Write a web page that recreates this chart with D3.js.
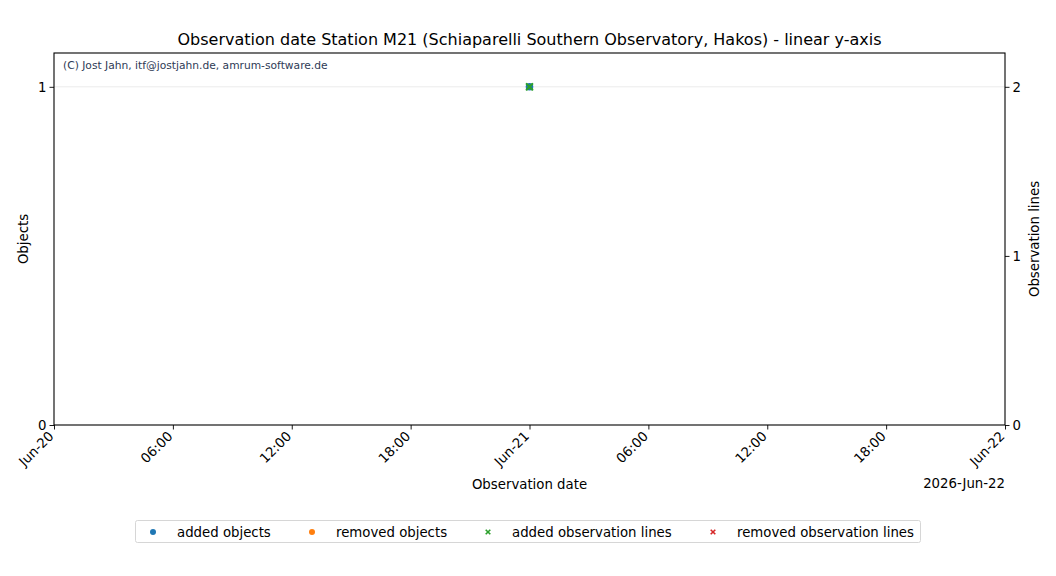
<!DOCTYPE html>
<html>
<head>
<meta charset="utf-8">
<script src="https://cdn.jsdelivr.net/npm/d3@7"></script>
<style>
  body { margin: 0; background: #fff; }
  text { font-family: "DejaVu Sans", sans-serif; }
</style>
</head>
<body>
<div id="chart"></div>
<script>
// observation dates (one entry per day with activity)
const obsDates = ['2026-06-21T00:00:00'];
const addedObjects = [1];
const removedObjects = [];
const addedLines = [2];
const removedLines = [];
const xDomain = ['2026-06-20T00:00:00', '2026-06-22T00:00:00'];
const objTicks = [0, 1];
const lineTicks = [0, 1, 2];
const legendLabels = ['added objects', 'removed objects', 'added observation lines', 'removed observation lines'];
const legendColors = ['#1f77b4', '#ff7f0e', '#2ca02c', '#d62728'];

const width = 1056, height = 576;
const margin = {left: 54, right: 51, top: 53, bottom: 151};
const innerW = width - margin.left - margin.right;
const innerH = height - margin.top - margin.bottom;
const fs = '13.3px';

const svg = d3.select('#chart')
    .append('svg')
    .attr('width', width)
    .attr('height', height);

const parse = d3.isoParse;
let x = d3.scaleTime()
    .domain(xDomain.map(parse))
    .range([margin.left, margin.left + innerW]);
let yObj = d3.scaleLinear()
    .domain([0, 1.1])
    .range([margin.top + innerH, margin.top]);
let yLines = d3.scaleLinear()
    .domain([0, 2.2])
    .range([margin.top + innerH, margin.top]);

// grid line at left ticks
svg.append('g')
    .selectAll('line')
    .data(objTicks.filter(d => d > 0))
    .enter()
    .append('line')
    .attr('x1', margin.left)
    .attr('x2', margin.left + innerW)
    .attr('y1', d => yObj(d))
    .attr('y2', d => yObj(d))
    .style('stroke', '#ebebeb')
    .style('stroke-width', 1);

// x axis
let fmt = d => d.getHours() === 0 ? d3.timeFormat('%b-%d')(d) : d3.timeFormat('%H:%M')(d);
let xAxis = svg.append('g')
    .attr('transform', `translate(0, ${margin.top + innerH})`)
    .call(d3.axisBottom(x).ticks(d3.timeHour.every(6)).tickFormat(fmt).tickSize(4.5).tickSizeOuter(0));
xAxis.selectAll('text')
    .style('font-size', fs)
    .style('fill', '#000')
    .attr('text-anchor', 'end')
    .attr('dy', null)
    .attr('y', null)
    .attr('transform', 'translate(0, 12) rotate(-45)');

// left axis
let yAxisL = svg.append('g')
    .attr('transform', `translate(${margin.left}, 0)`)
    .call(d3.axisLeft(yObj).tickValues(objTicks).tickFormat(d3.format('d')).tickSize(4.5).tickSizeOuter(0));
yAxisL.selectAll('text').style('font-size', fs).style('fill', '#000');

// right axis
let yAxisR = svg.append('g')
    .attr('transform', `translate(${margin.left + innerW}, 0)`)
    .call(d3.axisRight(yLines).tickValues(lineTicks).tickFormat(d3.format('d')).tickSize(4.5).tickSizeOuter(0));
yAxisR.selectAll('text').style('font-size', fs).style('fill', '#000');

svg.selectAll('.domain').remove();
svg.selectAll('.tick line').style('stroke', '#000').style('stroke-width', 0.9);

// frame
svg.append('rect')
    .attr('x', margin.left)
    .attr('y', margin.top)
    .attr('width', innerW)
    .attr('height', innerH)
    .style('fill', 'none')
    .style('stroke', '#000')
    .style('stroke-width', 1.1);

// markers
function circles(vals, color, scale) {
    svg.append('g').selectAll('circle')
        .data(vals)
        .enter()
        .append('circle')
        .attr('cx', (d, i) => x(parse(obsDates[i])))
        .attr('cy', d => scale(d))
        .attr('r', 3.8)
        .style('fill', color);
}
function crosses(vals, color, scale) {
    let s = 2.8;
    svg.append('g').selectAll('path')
        .data(vals)
        .enter()
        .append('path')
        .attr('d', (d, i) => {
            let cx = x(parse(obsDates[i])), cy = scale(d);
            return `M${cx - s},${cy - s}L${cx + s},${cy + s}M${cx - s},${cy + s}L${cx + s},${cy - s}`;
        })
        .style('stroke', color)
        .style('stroke-width', 2.2)
        .style('stroke-linecap', 'round')
        .style('fill', 'none');
}
circles(addedObjects, legendColors[0], yObj);
circles(removedObjects, legendColors[1], yObj);
crosses(addedLines, legendColors[2], yLines);
crosses(removedLines, legendColors[3], yLines);

// title
svg.append('text')
    .attr('x', margin.left + innerW / 2)
    .attr('y', 45)
    .attr('text-anchor', 'middle')
    .style('font-size', '16px')
    .text('Observation date Station M21 (Schiaparelli Southern Observatory, Hakos) - linear y-axis');

// copyright
svg.append('text')
    .attr('x', 63)
    .attr('y', 69)
    .style('font-size', '10.7px')
    .style('fill', '#2e3a55')
    .text('(C) Jost Jahn, itf@jostjahn.de, amrum-software.de');

// axis labels
svg.append('text')
    .attr('x', margin.left + innerW / 2)
    .attr('y', 489)
    .attr('text-anchor', 'middle')
    .style('font-size', fs)
    .text('Observation date');
svg.append('text')
    .attr('x', margin.left + innerW)
    .attr('y', 488)
    .attr('text-anchor', 'end')
    .style('font-size', fs)
    .text('2026-Jun-22');
svg.append('text')
    .attr('transform', `translate(28, ${margin.top + innerH / 2}) rotate(-90)`)
    .attr('text-anchor', 'middle')
    .style('font-size', fs)
    .text('Objects');
svg.append('text')
    .attr('transform', `translate(1039, ${margin.top + innerH / 2}) rotate(-90)`)
    .attr('text-anchor', 'middle')
    .style('font-size', fs)
    .text('Observation lines');

// legend
let legX = [153, 312, 488, 713];
let leg = svg.append('g');
leg.append('rect')
    .attr('x', 135.5)
    .attr('y', 520.5)
    .attr('width', 785)
    .attr('height', 22)
    .attr('rx', 2)
    .style('fill', '#fff')
    .style('stroke', '#d6d6d6');
legendLabels.forEach((lab, i) => {
    let cx = legX[i], cy = 532;
    if (i < 2) {
        leg.append('circle').attr('cx', cx).attr('cy', cy).attr('r', 3).style('fill', legendColors[i]);
    } else {
        let s = 2.3;
        leg.append('path')
            .attr('d', `M${cx - s},${cy - s}L${cx + s},${cy + s}M${cx - s},${cy + s}L${cx + s},${cy - s}`)
            .style('stroke', legendColors[i])
            .style('stroke-width', 1.6);
    }
    leg.append('text')
        .attr('x', cx + 24)
        .attr('y', cy + 4.5)
        .style('font-size', fs)
        .text(lab);
});
</script>
</body>
</html>
